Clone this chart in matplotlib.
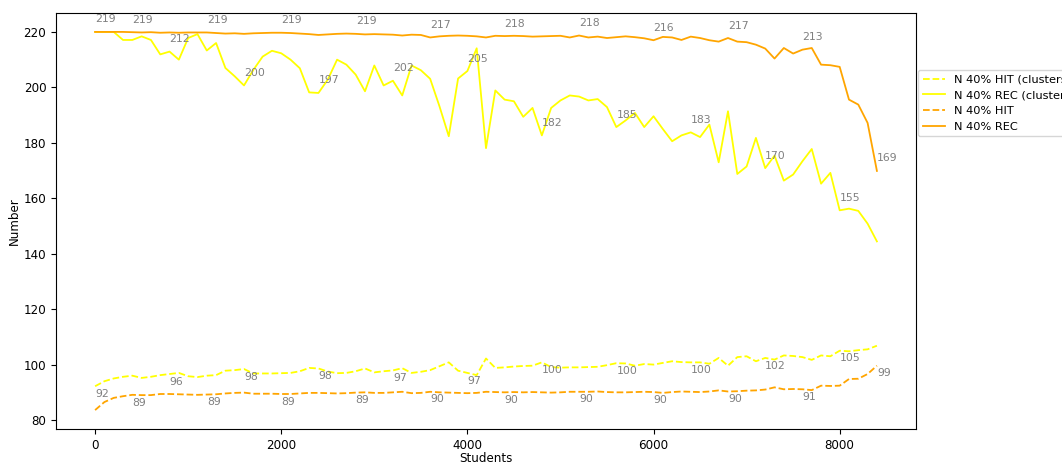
import numpy as np
import matplotlib
matplotlib.use('Agg')
from matplotlib import pyplot as plt

students = np.arange(0, 8500, 100)

# N 40% REC (clusters) - yellow solid
rec_clusters = [219.9, 219.9, 219.9, 217.0, 217.0, 218.3, 217.0, 211.8, 212.8, 209.9,
                217.7, 219.1, 213.2, 215.9, 206.9, 203.9, 200.6, 206.2, 211.0, 213.1,
                212.2, 209.9, 206.8, 198.1, 197.9, 202.7, 209.9, 208.1, 204.5, 198.5,
                207.8, 200.6, 202.3, 197.0, 207.8, 206.1, 203.0, 193.1, 182.3, 203.1,
                205.8, 214.0, 178.0, 198.8, 195.5, 194.9, 189.3, 192.5, 182.6, 192.5,
                195.2, 197.0, 196.6, 195.2, 195.7, 192.8, 185.6, 188.0, 190.7, 185.6,
                189.5, 184.9, 180.5, 182.6, 183.7, 182.0, 186.5, 172.9, 191.3, 168.7,
                171.4, 181.7, 170.8, 175.3, 166.3, 168.5, 173.3, 177.7, 165.2, 169.1,
                155.6, 156.2, 155.4, 150.8, 144.4]

# N 40% REC - orange solid
rec = [219.9, 219.9, 219.9, 219.9, 219.8, 219.7, 219.8, 219.6, 219.7, 219.6,
       219.7, 219.7, 219.7, 219.5, 219.3, 219.4, 219.2, 219.4, 219.5, 219.6,
       219.6, 219.5, 219.3, 219.1, 218.8, 219.0, 219.2, 219.3, 219.2, 219.0,
       219.1, 219.0, 218.9, 218.6, 218.9, 218.8, 217.9, 218.3, 218.5, 218.6,
       218.5, 218.3, 217.9, 218.5, 218.4, 218.5, 218.4, 218.2, 218.3, 218.4,
       218.5, 217.9, 218.6, 217.9, 218.2, 217.7, 218.0, 218.3, 218.0, 217.6,
       216.9, 218.1, 217.9, 217.0, 218.2, 217.7, 216.9, 216.4, 217.7, 216.4,
       216.2, 215.3, 213.9, 210.3, 214.1, 212.1, 213.5, 214.1, 208.1, 207.9,
       207.3, 195.5, 193.7, 187.1, 169.8]

# N 40% HIT (clusters) - yellow dashed
hit_clusters = [92.2, 94.0, 95.0, 95.6, 96.0, 95.2, 95.6, 96.2, 96.6, 97.0,
                95.8, 95.5, 96.0, 96.2, 97.8, 98.0, 98.4, 96.8, 96.8, 96.8,
                96.9, 97.0, 97.6, 98.8, 98.6, 97.5, 96.9, 97.0, 97.6, 98.6,
                97.2, 97.6, 97.9, 98.7, 97.0, 97.4, 98.0, 99.4, 100.8, 97.8,
                97.0, 96.2, 102.2, 98.8, 99.0, 99.3, 99.5, 99.6, 100.8, 99.1,
                98.9, 99.0, 99.0, 99.1, 99.2, 99.8, 100.5, 100.4, 99.6, 100.2,
                100.0, 100.6, 101.2, 100.9, 100.8, 100.8, 100.3, 102.4, 99.6, 102.7,
                103.0, 101.2, 102.4, 101.8, 103.3, 103.1, 102.7, 101.7, 103.3, 103.0,
                105.0, 104.8, 105.2, 105.5, 106.8]

# N 40% HIT - orange dashed
hit = [83.6, 86.5, 88.0, 88.6, 89.1, 89.0, 89.0, 89.4, 89.4, 89.3,
       89.2, 89.1, 89.2, 89.3, 89.6, 89.8, 89.9, 89.5, 89.5, 89.5,
       89.4, 89.4, 89.6, 89.8, 89.8, 89.7, 89.6, 89.7, 89.9, 90.0,
       89.8, 89.8, 90.0, 90.2, 89.7, 89.8, 90.2, 90.0, 89.9, 89.8,
       89.7, 89.8, 90.2, 90.1, 90.0, 90.1, 90.0, 90.1, 90.0, 89.9,
       90.0, 90.2, 90.2, 90.2, 90.3, 90.1, 90.0, 90.0, 90.1, 90.2,
       90.1, 89.8, 90.1, 90.3, 90.2, 90.1, 90.3, 90.7, 90.3, 90.4,
       90.6, 90.7, 91.0, 91.8, 91.1, 91.2, 91.1, 90.8, 92.4, 92.3,
       92.4, 94.8, 94.9, 96.6, 99.6]

fs = 8.6
fig = plt.figure(figsize=(10.62, 4.63), dpi=100)
ax = fig.add_axes([56 / 1062, 1 - 429 / 463, 860 / 1062, 416 / 463])

lw = 1.3
ax.plot(students, hit_clusters, '--', color='yellow', lw=lw, label='N 40% HIT (clusters)')
ax.plot(students, rec_clusters, '-', color='yellow', lw=lw, label='N 40% REC (clusters)')
ax.plot(students, hit, '--', color='orange', lw=lw, label='N 40% HIT')
ax.plot(students, rec, '-', color='orange', lw=lw, label='N 40% REC')

# value labels: yellow series every 8 points from 0, orange from 4
def label(vals, start, up):
    for i in range(start, len(vals), 8):
        off = 12.5 if up else -7.7
        ax.annotate(str(int(vals[i])), (students[i], vals[i]), xytext=(0, off),
                    textcoords='offset pixels', ha='left', va='center',
                    color='grey', fontsize=7.8)

label(rec_clusters, 0, True)
label(hit_clusters, 0, False)
label(rec, 4, True)
label(hit, 4, False)

ax.set_xlabel('Students', fontsize=fs, labelpad=0)
ax.set_ylabel('Number', fontsize=fs, labelpad=2)
ax.tick_params(labelsize=fs)
ax.set_yticks(range(80, 221, 20))

ax.legend(loc='upper left', bbox_to_anchor=(918 / 1062, 1 - 70 / 463),
          bbox_transform=fig.transFigure, borderaxespad=0, fontsize=8.2)

fig.savefig('out.png', dpi=100)
